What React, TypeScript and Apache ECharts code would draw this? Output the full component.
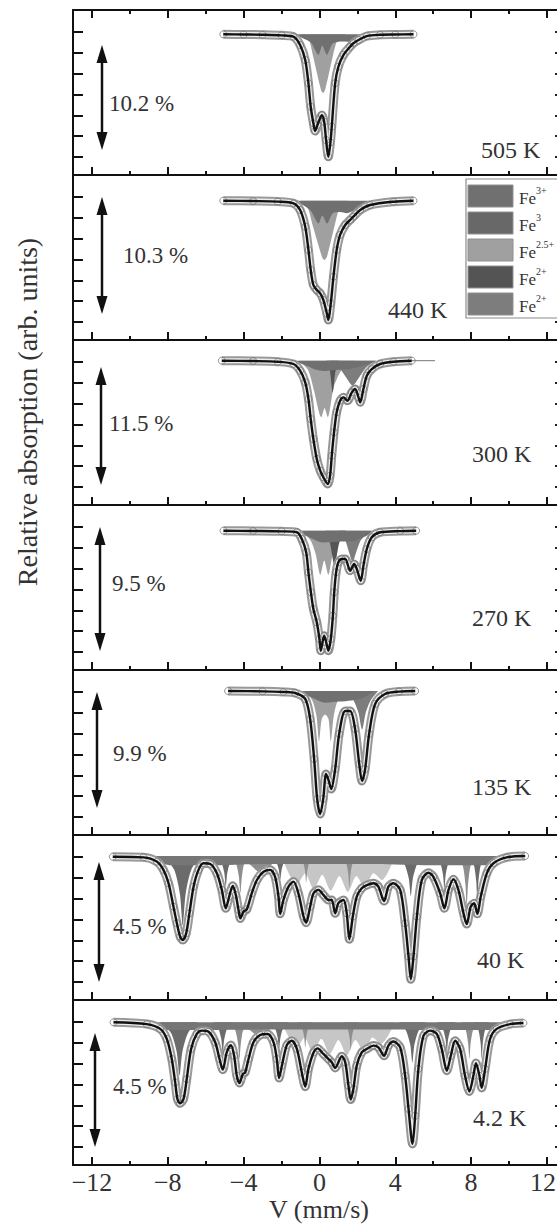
import { useEffect, useRef } from "react";
import * as echarts from "echarts";

type Pt = [number, number];

// ---------- labels ----------
const temperatures = ["505 K", "440 K", "300 K", "270 K", "135 K", "40 K", "4.2 K"];
const effects = ["10.2 %", "10.3 %", "11.5 %", "9.5 %", "9.9 %", "4.5 %", "4.5 %"];
const velocityTicks = [-12, -8, -4, 0, 4, 8, 12];
const velocityMinorTicks = [-10, -6, -2, 2, 6, 10];
const legendSup = ["3+", "3", "2.5+", "2+", "2+"];
const legendColors = ["#707070", "#686868", "#a0a0a0", "#545454", "#7d7d7d"];

// ---------- fitted spectra: [velocity mm/s, absorption %] ----------
const fit505: Pt[] = [
  [-5.07, 0], [-4.0, 0.02], [-3.0, 0.04], [-2.0, 0.1], [-1.37, 0.23], [-1.02, 1.04], [-0.75, 2.5],
  [-0.58, 4.76], [-0.46, 7.04], [-0.32, 8.65], [-0.23, 9.4], [-0.1, 8.8], [0.0, 8.3], [0.13, 7.85],
  [0.25, 8.5], [0.35, 10.27], [0.47, 11.9], [0.58, 10.5], [0.65, 8.98], [0.83, 4.76], [1.0, 3.15],
  [1.27, 2.0], [1.62, 1.2], [1.79, 0.87], [2.06, 0.55], [2.5, 0.17], [3.2, 0.05], [4.0, 0.02], [4.96, 0],
];
const fit440: Pt[] = [
  [-5.07, 0], [-3.5, 0.03], [-2.2, 0.08], [-1.37, 0.23], [-1.02, 0.82], [-0.75, 2.28], [-0.58, 4.33],
  [-0.46, 6.08], [-0.32, 7.4], [-0.14, 7.84], [0.04, 8.13], [0.21, 8.72], [0.39, 9.89], [0.47, 10.47],
  [0.6, 9.0], [0.74, 6.67], [0.91, 4.33], [1.09, 3.01], [1.36, 2.13], [1.62, 1.69], [1.79, 1.4],
  [2.15, 0.82], [2.67, 0.38], [3.9, 0.09], [4.96, 0],
];
const fit300: Pt[] = [
  [-5.15, 0], [-3.5, 0.03], [-2.2, 0.1], [-1.37, 0.32], [-1.02, 0.97], [-0.75, 2.1], [-0.58, 3.72],
  [-0.46, 5.67], [-0.32, 7.61], [-0.14, 9.55], [0.04, 10.69], [0.21, 11.33], [0.44, 11.98], [0.56, 11.18],
  [0.65, 9.23], [0.77, 6.96], [0.91, 5.01], [1.09, 3.89], [1.27, 3.56], [1.48, 3.89], [1.71, 3.07],
  [1.88, 2.75], [2.06, 3.56], [2.15, 4.04], [2.32, 2.75], [2.5, 1.46], [2.76, 0.81], [3.2, 0.32],
  [3.9, 0.1], [4.87, 0],
];
const tail300: Pt[] = [[4.87, 0], [6.1, 0]];
const fit270: Pt[] = [
  [-5.06, 0], [-3.5, 0.02], [-2.0, 0.05], [-1.19, 0.12], [-0.93, 0.64], [-0.7, 1.66], [-0.58, 3.2],
  [-0.45, 4.74], [-0.32, 6.02], [-0.14, 7.05], [0.0, 8.33], [0.07, 9.23], [0.16, 8.6], [0.25, 8.08],
  [0.36, 8.6], [0.47, 9.23], [0.6, 8.33], [0.71, 6.54], [0.78, 4.74], [0.88, 3.2], [1.0, 2.43],
  [1.18, 2.18], [1.36, 2.18], [1.62, 3.08], [1.83, 2.56], [1.97, 2.95], [2.18, 3.85], [2.32, 2.69],
  [2.5, 1.41], [2.76, 0.51], [3.2, 0.12], [4.26, 0.03], [5.1, 0],
];
const fit135: Pt[] = [
  [-4.82, 0], [-3.0, 0.03], [-1.9, 0.08], [-1.28, 0.17], [-0.75, 0.68], [-0.49, 2.39], [-0.28, 5.8],
  [-0.12, 9.2], [0.04, 10.5], [0.2, 9.2], [0.35, 7.08], [0.48, 7.6], [0.62, 8.36], [0.83, 6.66],
  [1.04, 3.67], [1.36, 1.71], [1.62, 1.71], [1.88, 3.24], [2.1, 6.23], [2.25, 7.68], [2.41, 6.66],
  [2.62, 3.67], [2.94, 1.11], [3.46, 0.26], [4.2, 0.05], [5.05, 0],
];
const fit40: Pt[] = [
  [-10.9, 0.03], [-9.28, 0.05], [-8.58, 0.21], [-8.23, 0.52], [-7.96, 1.02], [-7.7, 1.9], [-7.52, 2.52],
  [-7.35, 3.02], [-7.21, 3.15], [-7.03, 2.9], [-6.86, 2.15], [-6.64, 1.15], [-6.38, 0.52], [-6.12, 0.27],
  [-5.76, 0.3], [-5.41, 0.65], [-5.15, 1.27], [-4.94, 1.96], [-4.76, 1.52], [-4.57, 1.12], [-4.41, 1.46],
  [-4.27, 2.02], [-4.17, 2.34], [-4.01, 2.09], [-3.83, 2.0], [-3.57, 1.4], [-3.3, 0.9], [-2.95, 0.59],
  [-2.6, 0.52], [-2.34, 0.78], [-2.16, 1.52], [-2.07, 2.17], [-1.9, 1.65], [-1.63, 1.15], [-1.37, 0.96],
  [-1.11, 1.4], [-0.84, 2.27], [-0.7, 2.5], [-0.49, 1.9], [-0.31, 1.4], [-0.05, 1.27], [0.21, 1.46],
  [0.48, 1.65], [0.65, 1.65], [0.83, 2.15], [1.0, 1.77], [1.27, 1.65], [1.44, 2.15], [1.58, 3.12],
  [1.76, 2.27], [1.97, 1.52], [2.23, 1.21], [2.5, 1.09], [2.85, 1.02], [3.11, 1.15], [3.41, 1.69],
  [3.64, 1.15], [3.9, 1.02], [4.26, 1.27], [4.52, 2.52], [4.7, 3.77], [4.82, 4.62], [4.96, 3.77],
  [5.14, 2.27], [5.4, 0.9], [5.75, 0.63], [6.01, 0.78], [6.37, 1.4], [6.59, 1.96], [6.81, 1.27],
  [7.07, 0.87], [7.33, 1.27], [7.6, 2.15], [7.77, 2.55], [7.98, 1.9], [8.16, 1.77], [8.33, 2.17],
  [8.51, 1.52], [8.83, 0.65], [9.18, 0.27], [9.88, 0.05], [10.85, 0],
];
const fit4K: Pt[] = [
  [-10.86, 0], [-9.11, 0.07], [-8.4, 0.26], [-8.05, 0.66], [-7.79, 1.45], [-7.61, 2.37], [-7.49, 3.03],
  [-7.35, 3.2], [-7.17, 3.03], [-7.0, 2.24], [-6.77, 1.05], [-6.47, 0.46], [-6.2, 0.33], [-5.85, 0.37],
  [-5.5, 0.79], [-5.27, 1.45], [-5.1, 1.87], [-4.89, 1.19], [-4.67, 0.9], [-4.5, 1.32], [-4.36, 2.11],
  [-4.22, 2.4], [-4.04, 2.04], [-3.92, 1.98], [-3.74, 1.45], [-3.48, 0.79], [-3.13, 0.5], [-2.74, 0.46],
  [-2.42, 0.79], [-2.25, 1.45], [-2.13, 2.2], [-1.98, 1.71], [-1.72, 0.9], [-1.46, 0.73], [-1.19, 1.05],
  [-0.93, 1.98], [-0.75, 2.54], [-0.58, 1.84], [-0.31, 1.19], [-0.1, 1.03], [0.21, 1.25], [0.48, 1.45],
  [0.65, 1.58], [0.83, 1.8], [1.18, 1.34], [1.36, 1.58], [1.53, 2.5], [1.65, 3.05], [1.79, 2.63],
  [1.97, 1.71], [2.23, 1.19], [2.5, 1.05], [2.85, 0.92], [3.11, 0.99], [3.41, 1.32], [3.64, 0.92],
  [3.9, 0.76], [4.26, 0.99], [4.52, 2.11], [4.7, 3.42], [4.91, 4.8], [5.05, 3.69], [5.22, 1.84],
  [5.49, 0.53], [5.84, 0.33], [6.19, 0.46], [6.45, 1.05], [6.72, 1.91], [6.93, 1.32], [7.16, 0.73],
  [7.42, 1.05], [7.68, 2.11], [7.91, 2.73], [8.12, 2.11], [8.26, 1.61], [8.44, 2.11], [8.56, 2.59],
  [8.74, 1.84], [9.0, 0.66], [9.35, 0.26], [10.06, 0.07], [10.76, 0.03],
];

// ---------- sub-spectra (absorption %) ----------
const light505: Pt[] = [[-1.0, 0], [-0.55, 0.6], [-0.35, 2.0], [0.1, 5.5], [0.2, 5.7], [0.3, 5.4], [0.72, 2.0], [0.95, 0.6], [1.4, 0]];
const top505: Pt[] = [[-1.4, 0], [-0.9, 0.35], [-0.45, 0.8], [-0.05, 2.0], [0.15, 1.1], [0.39, 2.0], [0.7, 0.9], [1.2, 0.7], [1.8, 0.75], [2.3, 0.25], [2.9, 0]];
const light440: Pt[] = [[-1.0, 0], [-0.6, 0.7], [-0.35, 2.2], [0.15, 5.0], [0.27, 5.2], [0.4, 4.9], [0.8, 2.2], [1.05, 0.7], [1.5, 0]];
const top440: Pt[] = [[-1.5, 0], [-0.9, 0.35], [-0.45, 0.9], [-0.05, 2.0], [0.15, 1.3], [0.4, 2.0], [0.7, 1.1], [1.1, 1.0], [1.45, 1.1], [1.9, 0.8], [2.4, 0.25], [3.0, 0]];
const light300: Pt[] = [[-1.1, 0], [-0.6, 0.9], [-0.3, 2.8], [0.1, 5.5], [0.27, 4.6], [0.44, 5.5], [0.75, 2.6], [1.1, 1.1], [1.5, 0.4], [1.9, 0]];
const mid300: Pt[] = [[0.5, 0], [1.0, 0.6], [1.4, 1.6], [1.75, 2.4], [2.1, 1.6], [2.5, 0.6], [3.0, 0]];
const deep300: Pt[] = [[0.35, 0], [0.55, 1.0], [0.7, 3.1], [0.85, 1.0], [1.05, 0]];
const top300: Pt[] = [[-1.4, 0], [-0.8, 0.4], [-0.3, 0.8], [0.2, 1.0], [0.9, 0.9], [1.6, 0.8], [2.3, 0.5], [3.0, 0]];
const light270: Pt[] = [[-0.9, 0], [-0.45, 0.8], [-0.2, 1.8], [0.05, 3.4], [0.25, 2.3], [0.47, 3.4], [0.7, 1.8], [0.95, 0.8], [1.4, 0]];
const deep270: Pt[] = [[0.3, 0], [0.55, 0.9], [0.8, 2.7], [1.05, 0.9], [1.4, 0]];
const mid270: Pt[] = [[1.0, 0], [1.35, 0.7], [1.55, 1.6], [1.75, 2.4], [1.95, 1.6], [2.2, 0.7], [2.7, 0]];
const top270: Pt[] = [[-1.4, 0], [-0.7, 0.4], [0.2, 0.9], [1.0, 0.85], [1.8, 0.8], [2.4, 0.45], [3.0, 0]];
const light135: Pt[] = [[-0.7, 0], [-0.35, 0.9], [-0.15, 2.2], [-0.02, 4.3], [0.12, 2.4], [0.3, 2.0], [0.48, 2.4], [0.6, 4.3], [0.75, 2.2], [0.95, 0.9], [1.4, 0]];
const mid135: Pt[] = [[1.4, 0], [1.8, 0.8], [2.05, 1.8], [2.25, 3.3], [2.45, 1.8], [2.7, 0.8], [3.1, 0]];
const top135: Pt[] = [[-1.1, 0], [-0.5, 0.5], [0.3, 1.0], [1.0, 0.9], [1.7, 0.8], [2.3, 0.6], [2.9, 0]];
const outer40: Pt[] = [
  [-8.21, 0], [-7.66, 0.52], [-7.36, 1.43], [-7.21, 2.6], [-7.06, 1.43], [-6.76, 0.52], [-6.21, 0],
  [-5.44, 0], [-5.17, 0.23], [-5.02, 0.63], [-4.94, 1.15], [-4.86, 0.63], [-4.71, 0.23], [-4.44, 0],
  [-2.57, 0], [-2.3, 0.18], [-2.15, 0.5], [-2.07, 0.9], [-1.99, 0.5], [-1.84, 0.18], [-1.57, 0],
  [4.07, 0], [4.48, 0.3], [4.71, 0.83], [4.82, 1.5], [4.93, 0.83], [5.16, 0.3], [5.57, 0],
  [6.09, 0], [6.37, 0.25], [6.52, 0.7], [6.59, 1.27], [6.66, 0.7], [6.81, 0.25], [7.09, 0],
  [7.93, 0], [8.15, 0.34], [8.27, 0.94], [8.33, 1.7], [8.39, 0.94], [8.51, 0.34], [8.73, 0],
];
const mid40: Pt[] = [
  [-4.67, 0], [-4.4, 0.28], [-4.25, 0.77], [-4.17, 1.4], [-4.09, 0.77], [-3.94, 0.28], [-3.7, 0.3],
  [-3.3, 0.55], [-2.9, 0.6], [-2.5, 0.3], [-2.2, 0],
  [-1.1, 0], [-0.88, 0.2], [-0.76, 0.55], [-0.7, 1.0], [-0.64, 0.55], [-0.52, 0.2], [-0.3, 0],
  [1.18, 0], [1.4, 0.24], [1.52, 0.66], [1.58, 1.2], [1.64, 0.66], [1.76, 0.24], [1.98, 0],
  [7.32, 0], [7.57, 0.38], [7.7, 1.05], [7.77, 1.9], [7.84, 1.05], [7.97, 0.38], [8.22, 0],
];
const light40: Pt[] = [
  [-2.0, 0], [-1.2, 1.1], [-0.75, 0.65], [-0.3, 1.25], [0.15, 0.7], [0.6, 1.3], [1.05, 0.75], [1.5, 1.35],
  [1.95, 0.75], [2.4, 1.2], [2.85, 0.65], [3.3, 0.9], [4.0, 0],
];
const base40: Pt[] = [
  [-9.8, 0], [-8.8, 0.2], [-7.8, 0.35], [-5.5, 0.35], [-3.0, 0.3], [0.0, 0.3], [3.0, 0.3], [5.8, 0.35],
  [8.9, 0.35], [9.6, 0.2], [10.2, 0],
];
const outer4K: Pt[] = [
  [-8.38, 0], [-7.83, 0.42], [-7.53, 1.16], [-7.38, 2.1], [-7.23, 1.16], [-6.93, 0.42], [-6.38, 0],
  [-5.6, 0], [-5.33, 0.24], [-5.18, 0.66], [-5.1, 1.2], [-5.02, 0.66], [-4.87, 0.24], [-4.6, 0],
  [-2.63, 0], [-2.36, 0.21], [-2.21, 0.58], [-2.13, 1.05], [-2.05, 0.58], [-1.9, 0.21], [-1.63, 0],
  [4.15, 0], [4.56, 0.32], [4.79, 0.88], [4.9, 1.6], [5.01, 0.88], [5.24, 0.32], [5.65, 0],
  [6.22, 0], [6.5, 0.24], [6.65, 0.66], [6.72, 1.2], [6.79, 0.66], [6.94, 0.24], [7.22, 0],
  [8.16, 0], [8.38, 0.29], [8.5, 0.8], [8.56, 1.45], [8.62, 0.8], [8.74, 0.29], [8.96, 0],
];
const mid4K: Pt[] = [
  [-4.72, 0], [-4.45, 0.29], [-4.3, 0.8], [-4.22, 1.45], [-4.14, 0.8], [-3.99, 0.29], [-3.7, 0.3],
  [-3.3, 0.5], [-3.0, 0.5], [-2.6, 0.25], [-2.3, 0],
  [-1.15, 0], [-0.93, 0.2], [-0.81, 0.55], [-0.75, 1.0], [-0.69, 0.55], [-0.57, 0.2], [-0.35, 0],
  [1.25, 0], [1.47, 0.22], [1.59, 0.6], [1.65, 1.1], [1.71, 0.6], [1.83, 0.22], [2.05, 0],
  [7.46, 0], [7.71, 0.29], [7.84, 0.8], [7.91, 1.45], [7.98, 0.8], [8.11, 0.29], [8.36, 0],
];
const light4K: Pt[] = [
  [-2.0, 0], [-1.2, 1.0], [-0.78, 0.6], [-0.35, 1.2], [0.1, 0.65], [0.55, 1.25], [1.0, 0.7], [1.45, 1.3],
  [1.9, 0.7], [2.35, 1.15], [2.8, 0.6], [3.25, 0.85], [4.0, 0],
];
const base4K: Pt[] = [
  [-9.9, 0], [-8.9, 0.2], [-8.0, 0.3], [-5.5, 0.3], [-3.0, 0.28], [0.0, 0.28], [3.0, 0.28], [6.0, 0.3],
  [9.0, 0.3], [9.7, 0.2], [10.3, 0],
];

// ---------- layout ----------
const FONT = '"Liberation Serif", "Times New Roman", serif';
const TOP = 10;
const H = 165;
const LEFT = 73;
const WIDTH = 487;
const XMIN = -13;
const XMAX = 12.69;
const pxPerPct = [10.29, 11.39, 10.29, 13.0, 11.72, 26.67, 25.33];
const baseOffset = [24.3, 25.7, 20.7, 25.7, 21, 21, 22.3];
const tickOffsets = [22, 43, 64, 85, 106, 126, 147];
const arrowX = [102, 102, 101, 100, 97, 99, 95];
const arrowTop = [45, 197, 367, 527, 692, 862, 1033];
const arrowBottom = [150, 314, 485, 651, 808, 982, 1147];
const pctX = [109, 123, 109, 112, 113, 113, 113];
const pctY = [103, 255, 423, 583, 753, 926, 1086];
const tempX = [481, 388, 472, 472, 472, 477, 473];
const tempY = [150, 310, 454, 618, 787, 960, 1118];

const C_TOP = "#707070";
const C_LIGHT = "#a0a0a0";
const C_MID = "#7d7d7d";
const C_DEEP = "#555555";

const panels = [
  { fit: fit505, comps: [[light505, C_LIGHT], [top505, C_TOP]] },
  { fit: fit440, comps: [[light440, C_LIGHT], [top440, C_TOP]] },
  { fit: fit300, comps: [[light300, C_LIGHT], [mid300, C_MID], [deep300, C_DEEP], [top300, C_TOP]] },
  { fit: fit270, comps: [[light270, C_LIGHT], [mid270, C_MID], [deep270, C_DEEP], [top270, C_TOP]] },
  { fit: fit135, comps: [[light135, C_LIGHT], [mid135, C_MID], [top135, C_TOP]] },
  { fit: fit40, comps: [[light40, "#c6c6c6"], [mid40, "#8e8e8e"], [outer40, "#6b6b6b"], [base40, "#767676"]] },
  { fit: fit4K, comps: [[light4K, "#c6c6c6"], [mid4K, "#8e8e8e"], [outer4K, "#6b6b6b"], [base4K, "#767676"]] },
] as { fit: Pt[]; comps: [Pt[], string][] }[];

function buildOption(): any {
  const grid: any[] = [];
  const xAxis: any[] = [];
  const yAxis: any[] = [];
  const series: any[] = [];
  const axisColor = "#111";
  const fmt = (v: number) => {
    if (v === 12) return "{r|12}";
    return v < 0 ? "\u2212" + Math.abs(v) : String(v);
  };

  panels.forEach((p, i) => {
    const last = i === panels.length - 1;
    grid.push({ left: LEFT, top: TOP + i * H, width: WIDTH, height: H, outerBoundsMode: "none" });
    xAxis.push({
      type: "value", gridIndex: i, min: XMIN, max: XMAX, position: "bottom",
      axisLine: { show: true, onZero: false, lineStyle: { color: axisColor, width: 2 } },
      axisTick: { show: true, inside: true, length: 8, customValues: velocityTicks, lineStyle: { color: axisColor, width: 2 } },
      axisLabel: {
        show: last, customValues: velocityTicks, formatter: fmt, fontFamily: FONT, fontSize: 26, color: "#333", margin: 4,
        rich: { r: { fontFamily: FONT, fontSize: 26, color: "#333", padding: [0, 8, 0, 0] } },
      },
      splitLine: { show: false },
    });
    xAxis.push({
      type: "value", gridIndex: i, min: XMIN, max: XMAX, position: "bottom",
      axisLine: { show: false, onZero: false },
      axisTick: { show: true, inside: true, length: 4, customValues: velocityMinorTicks, lineStyle: { color: axisColor, width: 2 } },
      axisLabel: { show: false },
      splitLine: { show: false },
    });
    const ymin = -baseOffset[i] / pxPerPct[i];
    const ymax = ymin + H / pxPerPct[i];
    const yt = tickOffsets.map((o) => ymin + o / pxPerPct[i]);
    yAxis.push({
      type: "value", gridIndex: i, inverse: true, min: ymin, max: ymax, position: "left",
      axisLine: { show: true, onZero: false, lineStyle: { color: axisColor, width: 2 } },
      axisTick: { show: true, inside: true, length: 10, customValues: yt, lineStyle: { color: axisColor, width: 2 } },
      axisLabel: { show: false }, splitLine: { show: false },
    });
    yAxis.push({
      type: "value", gridIndex: i, inverse: true, min: ymin, max: ymax, position: "right",
      axisLine: { show: true, onZero: false, lineStyle: { color: axisColor, width: 2 } },
      axisTick: { show: true, inside: true, length: 5, customValues: yt, lineStyle: { color: "#222", width: 2 } },
      axisLabel: { show: false }, splitLine: { show: false },
    });
    const xi = 2 * i;
    const yi = 2 * i;
    p.comps.forEach(([d, c]) => {
      series.push({
        type: "line", xAxisIndex: xi, yAxisIndex: yi, data: d, smooth: 0.25,
        symbol: "none", lineStyle: { width: 0 }, areaStyle: { color: c, opacity: 1 }, z: 2, silent: true,
      });
    });
    series.push({
      type: "line", xAxisIndex: xi, yAxisIndex: yi, data: p.fit, smooth: 0.3, symbol: "none",
      lineStyle: { color: "#999999", width: 9 }, z: 3, silent: true,
    });
    series.push({
      type: "line", xAxisIndex: xi, yAxisIndex: yi, data: p.fit, smooth: 0.3, symbol: "none",
      lineStyle: { color: "#ececec", width: 5 }, z: 3, silent: true,
    });
    series.push({
      type: "scatter", xAxisIndex: xi, yAxisIndex: yi, data: p.fit, symbol: "circle", symbolSize: 7,
      itemStyle: { color: "rgba(255,255,255,0)", borderColor: "#7a7a7a", borderWidth: 1 }, z: 4, silent: true,
    });
    if (i === 2) {
      series.push({
        type: "line", xAxisIndex: xi, yAxisIndex: yi, data: tail300, symbol: "none",
        lineStyle: { color: "#777", width: 1 }, z: 4, silent: true,
      });
    }
    series.push({
      type: "line", xAxisIndex: xi, yAxisIndex: yi, data: p.fit, smooth: 0.3, symbol: "none",
      lineStyle: { color: "#111", width: 2.4 }, z: 5, silent: true,
    });
  });

  // top axis of first panel
  xAxis.push({
    type: "value", gridIndex: 0, min: XMIN, max: XMAX, position: "top",
    axisLine: { show: true, onZero: false, lineStyle: { color: axisColor, width: 2 } },
    axisTick: { show: true, inside: true, length: 8, customValues: velocityTicks, lineStyle: { color: axisColor, width: 2 } },
    axisLabel: { show: false }, splitLine: { show: false },
  });
  xAxis.push({
    type: "value", gridIndex: 0, min: XMIN, max: XMAX, position: "top",
    axisLine: { show: false, onZero: false },
    axisTick: { show: true, inside: true, length: 4, customValues: velocityMinorTicks, lineStyle: { color: axisColor, width: 2 } },
    axisLabel: { show: false }, splitLine: { show: false },
  });

  const graphic: any[] = [];
  const txt = (x: number, y: number, text: string, size: number, align = "left", extra: any = {}) => ({
    type: "text", x, y, z: 50, ...extra,
    style: {
      text, fontFamily: FONT, fontSize: size, fill: "#333",
      align, verticalAlign: "middle", textAlign: align, textVerticalAlign: "middle",
    },
  });
  graphic.push(txt(27, 412, "Relative absorption (arb. units)", 28, "center", { rotation: Math.PI / 2 }));
  graphic.push(txt(319, 1209, "V (mm/s)", 26, "center"));

  panels.forEach((_, i) => {
    const x = arrowX[i];
    const t = arrowTop[i];
    const b = arrowBottom[i];
    graphic.push({ type: "line", z: 50, shape: { x1: x, y1: t + 12, x2: x, y2: b - 12 }, style: { stroke: "#111", lineWidth: 2.5 } });
    graphic.push({ type: "polygon", z: 50, shape: { points: [[x, t], [x - 5.5, t + 18], [x + 5.5, t + 18]] }, style: { fill: "#111" } });
    graphic.push({ type: "polygon", z: 50, shape: { points: [[x, b], [x - 5.5, b - 18], [x + 5.5, b - 18]] }, style: { fill: "#111" } });
    graphic.push(txt(pctX[i], pctY[i], effects[i], 23));
    graphic.push(txt(tempX[i], tempY[i], temperatures[i], 24));
  });

  // legend box in 440 K panel
  graphic.push({ type: "rect", z: 60, shape: { x: 466, y: 179, width: 110, height: 139 }, style: { fill: "#fff", stroke: "#8c8c8c", lineWidth: 1.2 } });
  legendSup.forEach((s, k) => {
    const y = 185 + 27 * k;
    graphic.push({ type: "rect", z: 61, shape: { x: 468, y, width: 45, height: 22 }, style: { fill: legendColors[k], stroke: "#909090", lineWidth: 1 } });
    graphic.push({
      type: "text", z: 61, x: 519, y: y + 11,
      style: {
        text: "{a|Fe}{b|" + s + "}", align: "left", verticalAlign: "middle", textAlign: "left", textVerticalAlign: "middle",
        rich: {
          a: { fontFamily: FONT, fontSize: 17, fill: "#333", lineHeight: 22, verticalAlign: "bottom" },
          b: { fontFamily: FONT, fontSize: 10, fill: "#333", lineHeight: 22, verticalAlign: "top" },
        },
      },
    });
  });

  return { animation: false, backgroundColor: "#ffffff", grid, xAxis, yAxis, series, graphic };
}

export default function App() {
  const ref = useRef<HTMLDivElement>(null);
  useEffect(() => {
    if (!ref.current) return;
    const chart = echarts.init(ref.current, undefined, { renderer: "svg" });
    chart.setOption(buildOption());
    return () => chart.dispose();
  }, []);
  return (
    <div
      ref={ref}
      style={{ position: "absolute", left: 0, top: 0, width: 557, height: 1225, background: "#fff" }}
    />
  );
}
